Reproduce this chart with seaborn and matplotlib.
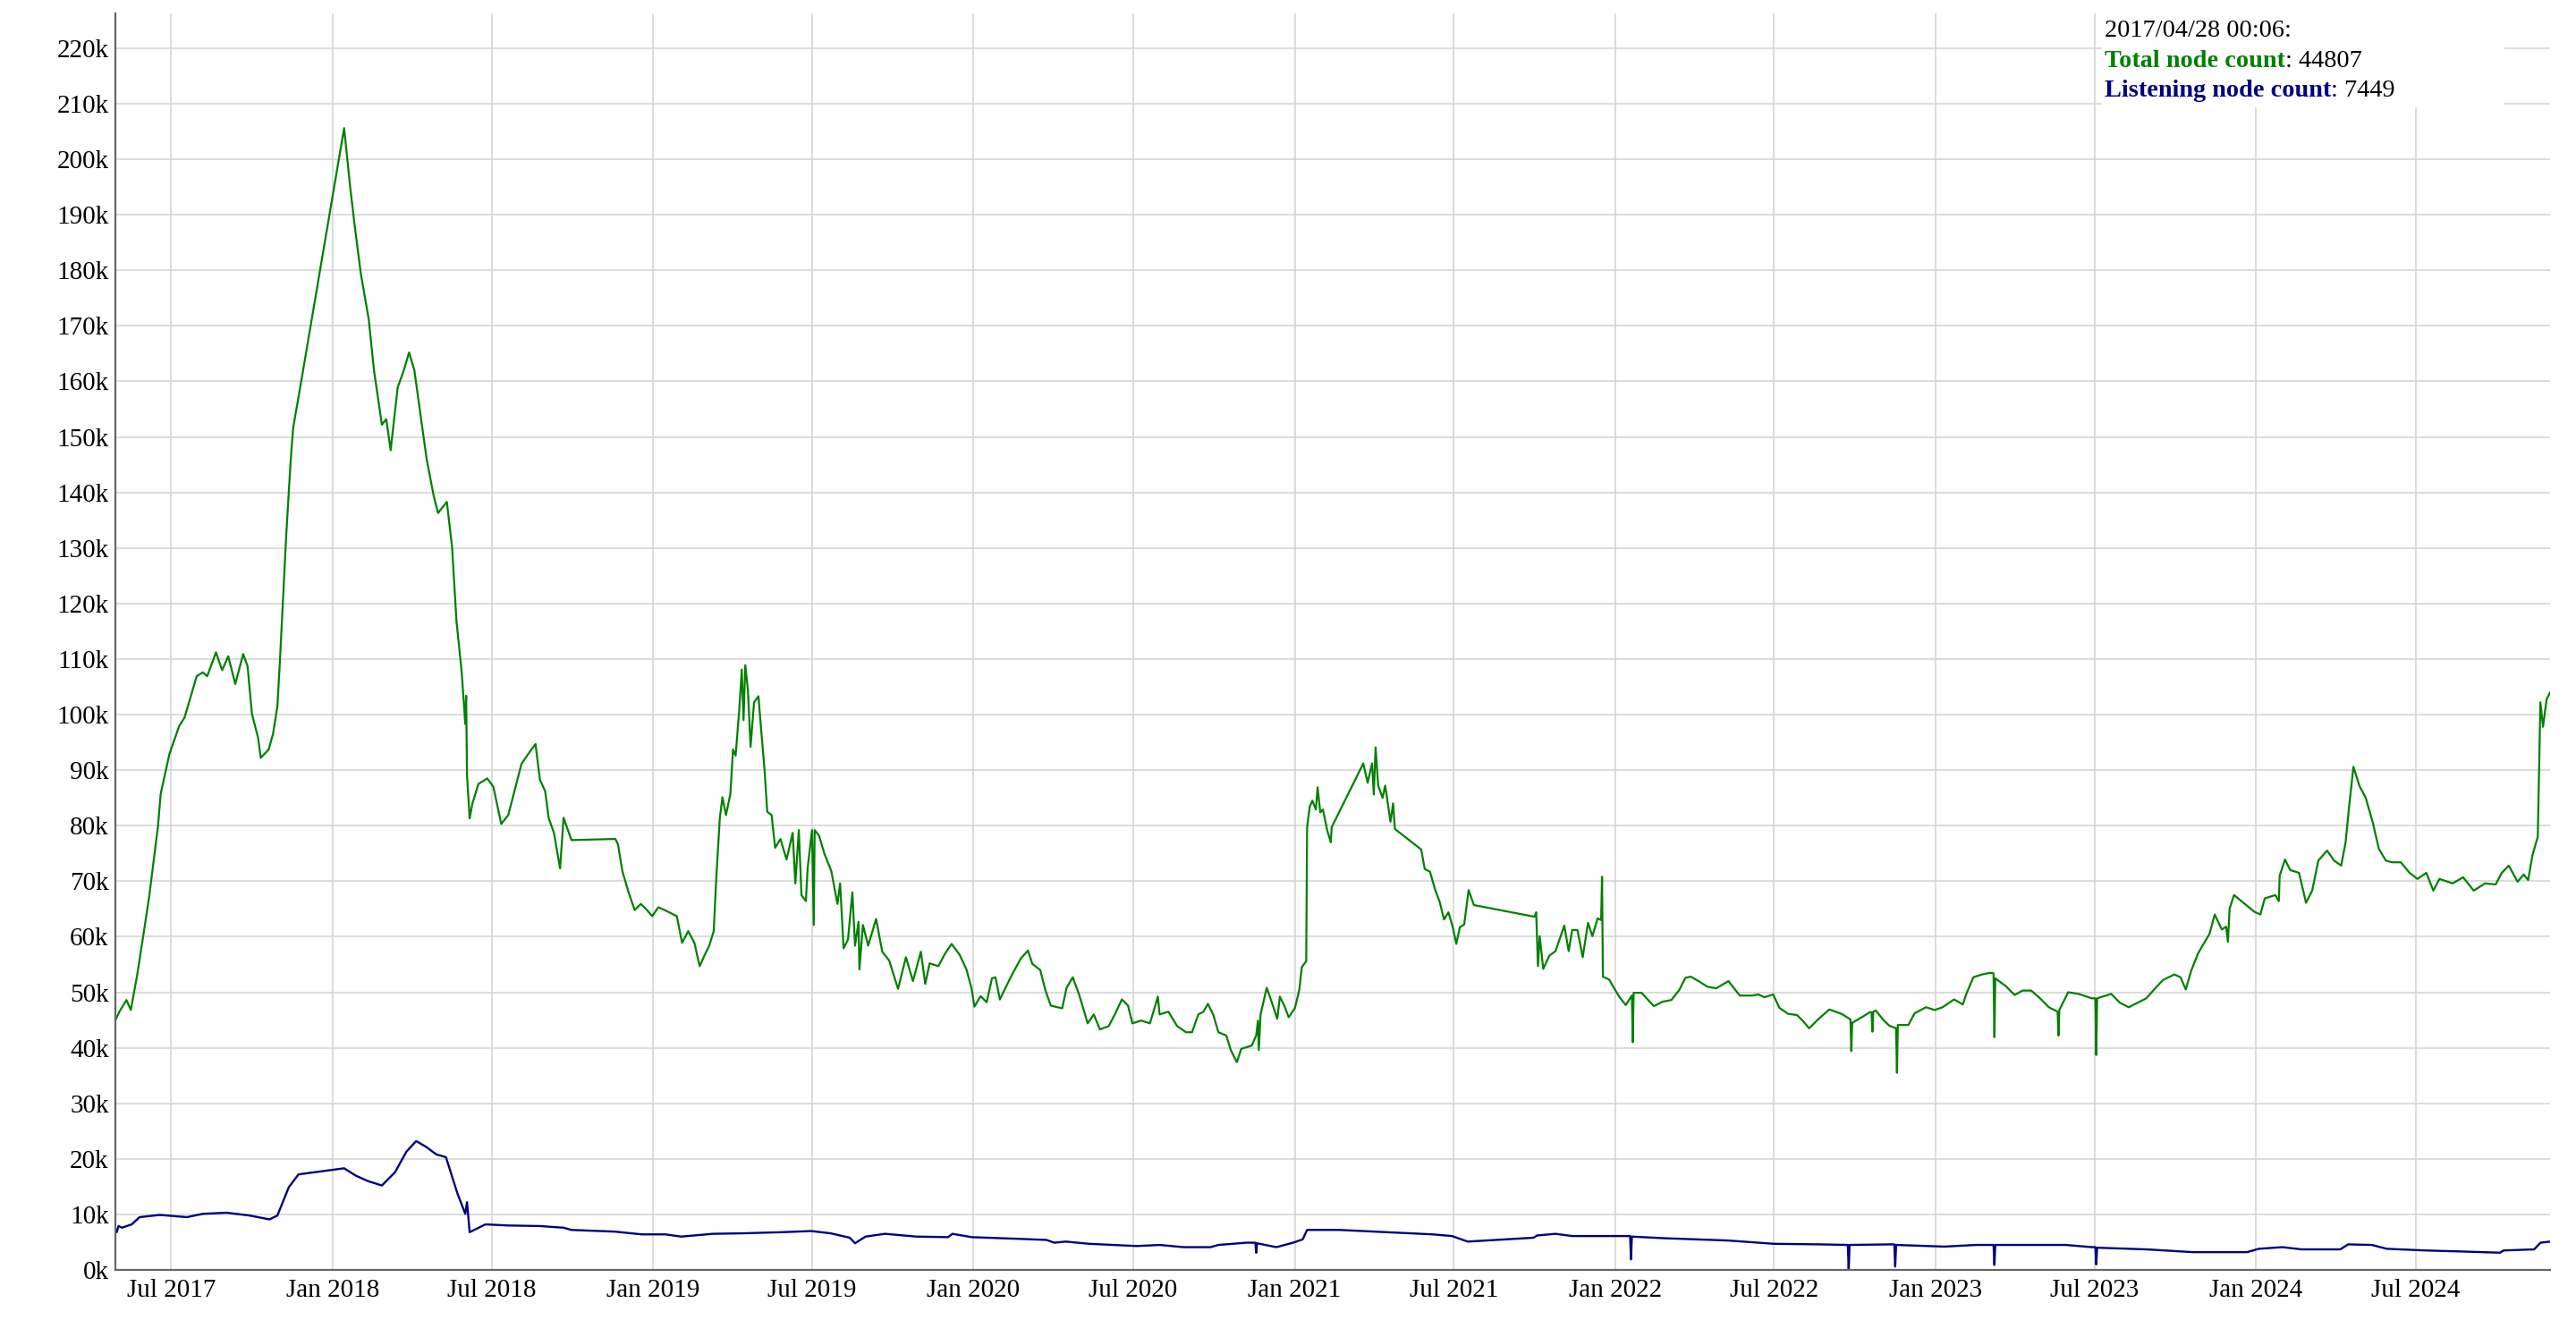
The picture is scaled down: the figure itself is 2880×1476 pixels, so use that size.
import numpy as np
import pandas as pd
import seaborn as sns
import matplotlib
matplotlib.use("Agg")
import matplotlib.pyplot as plt
import matplotlib.dates as mdates
from matplotlib.ticker import FuncFormatter
from matplotlib.patches import Rectangle

# -----------------------------
# Data
# day offsets are counted from the first snapshot date
# -----------------------------
START = "2017-04-28"

total_day = [
    0, 5, 13, 18, 25, 32, 39, 49, 52, 56, 62, 73, 79, 83, 93, 100, 105, 115, 122, 129,
    137, 146, 151, 156, 163, 166, 175, 180, 185, 188, 193, 195, 200, 203, 207, 212, 261, 268, 273, 280,
    289, 295, 304, 309, 314, 322, 329, 335, 341, 350, 355, 363, 368, 378, 384, 389, 395, 399, 400, 401,
    404, 407, 414, 424, 431, 440, 448, 463, 472, 479, 484, 490, 494, 500, 507, 511, 517, 520, 567, 570,
    573, 578, 585, 592, 599, 606, 612, 619, 626, 640, 646, 653, 660, 666, 672, 677, 682, 685, 689, 692,
    696, 701, 704, 707, 711, 714, 716, 718, 721, 724, 728, 733, 736, 740, 743, 748, 752, 758, 765, 772,
    775, 779, 782, 787, 789, 794, 796, 797, 802, 808, 816, 823, 826, 830, 835, 840, 843, 847, 848, 852,
    858, 867, 874, 882, 892, 901, 909, 918, 923, 928, 938, 945, 953, 962, 970, 976, 979, 986, 993, 999,
    1003, 1008, 1016, 1023, 1032, 1040, 1045, 1054, 1060, 1066, 1079, 1084, 1091, 1098, 1103, 1108, 1115, 1122, 1132, 1139,
    1147, 1154, 1159, 1169, 1179, 1188, 1190, 1200, 1210, 1220, 1227, 1234, 1240, 1245, 1251, 1257, 1266, 1271, 1278, 1283,
    1295, 1300, 1302, 1303, 1305, 1312, 1318, 1324, 1327, 1332, 1337, 1344, 1349, 1352, 1357, 1358, 1361, 1364, 1368, 1370,
    1373, 1376, 1381, 1385, 1386, 1422, 1427, 1432, 1434, 1436, 1439, 1444, 1447, 1453, 1456, 1458, 1488, 1492, 1498, 1504,
    1509, 1514, 1519, 1524, 1528, 1532, 1537, 1540, 1542, 1548, 1617, 1619, 1621, 1623, 1627, 1634, 1641, 1648, 1651, 1656,
    1660, 1666, 1672, 1678, 1683, 1689, 1693, 1694, 1695, 1702, 1709, 1714, 1721, 1728, 1729, 1730, 1739, 1753, 1763, 1773,
    1782, 1789, 1795, 1804, 1814, 1824, 1838, 1851, 1865, 1872, 1879, 1889, 1896, 1906, 1916, 1923, 1930, 1940, 1953, 1967,
    1977, 1978, 1979, 1991, 1999, 2001, 2002, 2003, 2006, 2014, 2021, 2029, 2030, 2031, 2043, 2050, 2063, 2073, 2082, 2095,
    2105, 2109, 2117, 2127, 2136, 2140, 2141, 2142, 2154, 2164, 2173, 2183, 2193, 2203, 2213, 2214, 2215, 2225, 2237, 2252,
    2256, 2257, 2258, 2274, 2284, 2294, 2304, 2314, 2323, 2333, 2346, 2353, 2359, 2365, 2373, 2380, 2386, 2392, 2400, 2405,
    2407, 2409, 2414, 2424, 2437, 2444, 2449, 2461, 2465, 2466, 2472, 2478, 2488, 2496, 2503, 2510, 2520, 2528, 2536, 2541,
    2545, 2550, 2557, 2564, 2572, 2579, 2587, 2594, 2604, 2614, 2623, 2633, 2641, 2648, 2663, 2675, 2687, 2700, 2712, 2719,
    2727, 2737, 2744, 2749, 2754, 2760, 2763, 2766, 2770, 2774,
]

total_k = [
    44.8, 46.5, 48.6, 46.8, 52.9, 60.0, 67.3, 80.0, 85.7, 88.6, 92.9, 97.9, 99.4, 101.5, 106.9, 107.6, 106.9, 111.2, 108.0, 110.5,
    105.5, 110.9, 108.7, 100.1, 95.8, 92.2, 93.7, 96.5, 101.5, 110.1, 126.0, 132.2, 145.5, 151.7, 155.3, 159.9, 205.6, 194.8, 188.1, 179.4,
    171.2, 162.0, 152.2, 153.2, 147.6, 158.9, 162.0, 165.2, 162.0, 151.7, 146.0, 139.4, 136.3, 138.3, 130.1, 116.8, 107.5, 98.3, 103.4, 89.0,
    81.3, 83.9, 87.5, 88.5, 87.0, 80.3, 81.9, 91.1, 93.2, 94.7, 88.3, 86.2, 81.4, 78.7, 72.3, 81.4, 78.7, 77.4, 77.6, 77.6,
    76.6, 71.8, 68.0, 64.8, 65.9, 64.8, 63.7, 65.3, 64.8, 63.7, 58.9, 61.0, 58.9, 54.7, 56.8, 58.4, 61.0, 70.7, 81.4, 85.1,
    81.9, 85.7, 93.7, 92.6, 100.6, 108.1, 99.0, 108.9, 104.4, 94.2, 102.2, 103.3, 97.4, 89.9, 82.5, 81.9, 76.0, 77.6, 73.9, 78.7,
    69.6, 79.2, 67.5, 66.4, 72.3, 79.2, 62.1, 79.2, 78.2, 75.0, 71.8, 65.9, 69.6, 57.9, 59.5, 68.0, 58.4, 62.7, 54.1, 62.1,
    58.4, 63.2, 57.3, 55.7, 50.6, 56.3, 52.0, 57.3, 51.5, 55.2, 54.7, 56.8, 58.7, 56.8, 54.1, 50.5, 47.4, 49.3, 48.2, 52.5,
    52.7, 48.7, 51.3, 53.5, 56.1, 57.5, 55.1, 54.0, 50.3, 47.6, 47.1, 50.8, 52.7, 49.7, 47.1, 44.4, 46.0, 43.3, 43.9, 46.0,
    48.7, 47.6, 44.4, 44.9, 44.4, 49.2, 46.0, 46.5, 43.9, 42.8, 42.8, 46.0, 46.5, 47.9, 46.0, 42.8, 42.2, 39.6, 37.4, 39.8,
    40.4, 42.2, 44.9, 39.6, 46.0, 50.8, 48.1, 45.2, 49.2, 47.6, 45.5, 47.1, 50.3, 54.5, 55.6, 79.7, 83.4, 84.5, 82.9, 86.9,
    82.4, 82.9, 79.1, 77.0, 79.7, 91.2, 87.7, 91.2, 85.6, 94.1, 87.2, 85.0, 87.2, 80.7, 84.0, 79.4, 75.7, 72.2, 71.7, 68.4,
    66.3, 63.1, 64.4, 61.7, 58.7, 61.7, 62.2, 66.0, 68.4, 65.7, 63.6, 64.4, 54.7, 60.1, 54.2, 56.6, 57.4, 60.6, 62.0, 57.4,
    61.2, 61.2, 56.3, 62.5, 60.1, 63.3, 63.0, 70.8, 52.8, 52.3, 50.4, 49.1, 47.7, 49.4, 41.0, 49.9, 49.9, 47.5, 48.3, 48.6,
    50.4, 52.6, 52.8, 52.0, 51.0, 50.7, 52.0, 49.4, 49.4, 49.6, 49.1, 49.6, 47.2, 46.1, 45.9, 44.8, 43.5, 45.1, 46.9, 46.1,
    45.1, 39.4, 44.5, 45.6, 46.4, 46.4, 42.9, 46.5, 46.7, 45.1, 44.0, 43.5, 35.5, 44.1, 44.1, 46.2, 47.3, 46.8, 47.3, 48.7,
    47.8, 49.7, 52.7, 53.2, 53.5, 53.4, 41.9, 52.5, 51.1, 49.5, 50.3, 50.3, 48.9, 47.3, 46.5, 42.2, 46.8, 50.0, 49.7, 48.9,
    48.9, 38.7, 48.9, 49.7, 48.1, 47.3, 48.1, 48.9, 50.5, 52.2, 53.2, 52.7, 50.5, 53.8, 57.0, 58.9, 60.5, 64.0, 61.3, 61.8,
    59.1, 65.1, 67.5, 66.2, 64.5, 64.0, 66.9, 67.5, 66.4, 71.0, 73.9, 72.0, 71.5, 66.1, 68.3, 73.7, 75.5, 73.7, 72.8, 76.9,
    83.3, 90.6, 87.1, 85.0, 80.6, 75.8, 73.7, 73.4, 73.4, 71.5, 70.4, 71.5, 68.3, 70.4, 69.6, 70.7, 68.3, 69.6, 69.4, 71.5,
    72.8, 69.9, 71.2, 70.2, 74.7, 78.0, 102.2, 97.8, 102.7, 104.0,
]

listen_day = [
    0, 2, 4, 8, 19, 28, 51, 82, 100, 127, 153, 176, 185, 198, 209, 261, 274, 288, 304, 319,
    332, 343, 354, 366, 377, 390, 399, 401, 404, 422, 448, 484, 511, 520, 569, 600, 627, 645, 681, 717,
    761, 793, 815, 837, 843, 855, 877, 913, 949, 954, 976, 1029, 1061, 1070, 1083, 1110, 1164, 1190, 1217, 1248,
    1257, 1289, 1299, 1300, 1301, 1323, 1342, 1353, 1358, 1395, 1448, 1501, 1523, 1541, 1616, 1620, 1641, 1660, 1713, 1726,
    1727, 1728, 1766, 1784, 1837, 1890, 1943, 1974, 1975, 1976, 2023, 2027, 2028, 2029, 2084, 2120, 2140, 2141, 2142, 2191,
    2222, 2252, 2256, 2257, 2258, 2314, 2367, 2403, 2429, 2442, 2469, 2491, 2535, 2544, 2571, 2588, 2633, 2677, 2717, 2721,
    2756, 2763, 2774,
]

listen_k = [
    7.4, 6.8, 7.9, 7.6, 8.2, 9.5, 9.9, 9.5, 10.1, 10.3, 9.8, 9.1, 9.8, 14.9, 17.2, 18.3, 17.0, 16.0, 15.2, 17.6,
    21.3, 23.2, 22.2, 20.8, 20.3, 13.8, 10.1, 12.2, 6.8, 8.2, 8.0, 7.9, 7.6, 7.2, 6.9, 6.4, 6.4, 6.0, 6.5, 6.6,
    6.8, 7.0, 6.6, 5.8, 4.8, 6.0, 6.5, 6.0, 5.9, 6.5, 5.9, 5.6, 5.4, 4.9, 5.1, 4.7, 4.3, 4.5, 4.1, 4.1,
    4.5, 4.9, 4.9, 3.1, 4.8, 4.1, 4.9, 5.5, 7.2, 7.2, 6.8, 6.4, 6.1, 5.1, 5.8, 6.2, 6.5, 6.1, 6.1, 6.1,
    1.9, 6.0, 5.7, 5.6, 5.3, 4.7, 4.6, 4.5, 0.0, 4.5, 4.6, 4.6, 0.6, 4.5, 4.2, 4.5, 4.5, 0.9, 4.5, 4.5,
    4.5, 4.1, 4.1, 1.0, 4.0, 3.7, 3.2, 3.2, 3.2, 3.8, 4.1, 3.7, 3.7, 4.6, 4.5, 3.8, 3.5, 3.3, 3.1, 3.5,
    3.7, 4.9, 5.1,
]

legend_time = "2017/04/28 00:06:"
legend_total = 44807
legend_listen = 7449

y_ticks = list(range(0, 220001, 10000))

# -----------------------------
# Frames
# -----------------------------
start = pd.Timestamp(START)
df_total = pd.DataFrame({
    "date": start + pd.to_timedelta(total_day, unit="D"),
    "nodes": np.array(total_k) * 1000,
})
df_listen = pd.DataFrame({
    "date": start + pd.to_timedelta(listen_day, unit="D"),
    "nodes": np.array(listen_k) * 1000,
})

# -----------------------------
# Plot
# -----------------------------
sns.set_style("white")
plt.rcParams["font.family"] = ["Liberation Serif", "DejaVu Serif"]

W, H = 2880, 1476
fig = plt.figure(figsize=(W / 100, H / 100), dpi=100)
ax_left, ax_right, ax_top, ax_bottom = 128.6, 2851, 15, 1420
ax = fig.add_axes([ax_left / W, 1 - ax_bottom / H,
                   (ax_right - ax_left) / W, (ax_bottom - ax_top) / H])

sns.lineplot(data=df_total, x="date", y="nodes", color="#008000", linewidth=1.6, ax=ax)
sns.lineplot(data=df_listen, x="date", y="nodes", color="#000080", linewidth=1.7, ax=ax)

ax.set_xlim(df_total["date"].iloc[0], df_total["date"].iloc[-1])
ax.set_ylim(0, 226250)
ax.set_yticks(y_ticks)
ax.yaxis.set_major_formatter(FuncFormatter(lambda v, p: f"{int(round(v / 1000))}k"))
ax.xaxis.set_major_locator(mdates.MonthLocator(bymonth=[1, 7]))
ax.xaxis.set_major_formatter(mdates.DateFormatter("%b %Y"))
ax.set_xlabel("")
ax.set_ylabel("")

ax.grid(True, color="#d2d2d2", linewidth=1.1)
ax.set_axisbelow(True)
ax.tick_params(axis="x", length=0, pad=7, labelsize=21, labelcolor="black")
ax.tick_params(axis="y", length=0, pad=5, labelsize=21, labelcolor="black")
for s in ["top", "right"]:
    ax.spines[s].set_visible(False)
for s in ["left", "bottom"]:
    ax.spines[s].set_color("#666666")
    ax.spines[s].set_linewidth(1.6)

# -----------------------------
# Hover-style readout box (top right)
# -----------------------------
fig.patches.append(Rectangle((2350 / W, 1 - 120 / H), (2800 - 2350) / W, (120 - ax_top) / H,
                             transform=fig.transFigure, facecolor="white",
                             edgecolor="none", zorder=1))

tx = 2353 / W
fig.text(tx, 1 - 41 / H, legend_time, fontsize=20.3, color="black", va="baseline", zorder=3)
t1 = fig.text(tx, 1 - 75 / H, "Total node count", fontsize=20.3, fontweight="bold",
              color="#008000", va="baseline", zorder=3)
t2 = fig.text(tx, 1 - 108 / H, "Listening node count", fontsize=20.3, fontweight="bold",
              color="#000080", va="baseline", zorder=3)

fig.canvas.draw()
renderer = fig.canvas.get_renderer()
for t, val in [(t1, legend_total), (t2, legend_listen)]:
    bb = t.get_window_extent(renderer)
    fig.text(bb.x1 / W, t.get_position()[1], f": {val}", fontsize=20.3,
             color="black", va="baseline", zorder=3)

fig.savefig("out.png", dpi=100)
